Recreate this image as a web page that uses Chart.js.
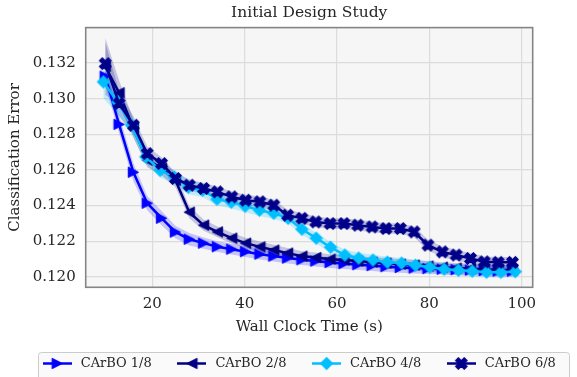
<!DOCTYPE html>
<html>
<head>
<meta charset="utf-8">
<script src="https://cdn.jsdelivr.net/npm/chart.js@4.4.1/dist/chart.umd.min.js"></script>
<style>
  html, body { margin: 0; padding: 0; background: #fff; }
  #wrap { width: 577px; height: 377px; }
</style>
</head>
<body>
<div id="wrap"><canvas id="study" width="577" height="377"></canvas></div>
<script>
// wall clock times (s) of the evaluations
const timeA = [9.8, 12.8, 15.9, 18.9, 22.0, 25.0, 28.0, 31.1, 34.1, 37.2,
               40.2, 43.3, 46.3, 49.3, 52.4, 55.4, 58.5, 61.5, 64.5, 67.6,
               70.6, 73.7, 76.7, 79.7, 82.8, 85.8, 88.9, 91.9, 94.9, 98.0]
const timeB = [9.4, 12.5, 15.5, 18.6, 21.7, 24.8, 27.8, 30.9, 34.0, 37.1,
               40.1, 43.2, 46.3, 49.4, 52.4, 55.5, 58.6, 61.7, 64.7, 67.8,
               70.9, 74.0, 77.0, 80.1, 83.2, 86.3, 89.3, 92.4, 95.5, 98.6]

// mean classification error per series
const err18 = [0.13126, 0.12856, 0.12587, 0.12413, 0.12329, 0.12251, 0.12211, 0.12189, 0.12169, 0.12155,
               0.12141, 0.12127, 0.12116, 0.12105, 0.12096, 0.12088, 0.12080, 0.12074, 0.12068, 0.12063,
               0.12057, 0.12052, 0.12049, 0.12046, 0.12043, 0.12040, 0.12038, 0.12035, 0.12032, 0.12032]
const err28 = [0.13182, 0.13033, 0.12834, 0.12655, 0.12610, 0.12542, 0.12363, 0.12290, 0.12252, 0.12217,
               0.12189, 0.12168, 0.12150, 0.12133, 0.12116, 0.12108, 0.12099, 0.12094, 0.12088, 0.12082,
               0.12077, 0.12071, 0.12066, 0.12060, 0.12054, 0.12049, 0.12046, 0.12043, 0.12040, 0.12038]
const err48 = [0.13094, 0.12981, 0.12851, 0.12673, 0.12598, 0.12559, 0.12503, 0.12486, 0.12436, 0.12419,
               0.12397, 0.12374, 0.12357, 0.12329, 0.12267, 0.12217, 0.12166, 0.12122, 0.12105, 0.12094,
               0.12082, 0.12077, 0.12065, 0.12054, 0.12043, 0.12037, 0.12032, 0.12026, 0.12026, 0.12029]
const err68 = [0.13197, 0.12973, 0.12851, 0.12692, 0.12636, 0.12552, 0.12514, 0.12496, 0.12477, 0.12449,
               0.12430, 0.12421, 0.12402, 0.12346, 0.12328, 0.12308, 0.12299, 0.12299, 0.12290, 0.12280,
               0.12271, 0.12271, 0.12252, 0.12178, 0.12140, 0.12122, 0.12103, 0.12084, 0.12081, 0.12081]

// spread (half width of the shaded band)
const sd18 = [0.0005, 0.0005, 0.0005, 0.0004, 0.0004, 0.00035, 0.00035, 0.00032, 0.0003, 0.0003,
              0.0003, 0.0003, 0.0003, 0.0003, 0.0003, 0.0003, 0.0003, 0.0003, 0.0003, 0.0003,
              0.0003, 0.0003, 0.0003, 0.0003, 0.0003, 0.0003, 0.0003, 0.0003, 0.0003, 0.0003]
const sd28 = [0.0016, 0.0007, 0.0005, 0.0004, 0.0004, 0.0004, 0.00035, 0.00032, 0.0003, 0.0003,
              0.0003, 0.0003, 0.0003, 0.00028, 0.00028, 0.00028, 0.00028, 0.00028, 0.00028, 0.00028,
              0.00028, 0.00028, 0.00028, 0.00028, 0.00028, 0.00028, 0.00028, 0.00028, 0.00028, 0.00028]
const sd48 = [0.0009, 0.0007, 0.0005, 0.0004, 0.0004, 0.0004, 0.0004, 0.00038, 0.00036, 0.00035,
              0.00035, 0.00033, 0.00032, 0.0003, 0.0003, 0.0003, 0.0003, 0.0003, 0.0003, 0.0003,
              0.0003, 0.0003, 0.0003, 0.0003, 0.0003, 0.0003, 0.0003, 0.0003, 0.0003, 0.0003]
const sd68 = [0.0012, 0.0007, 0.0005, 0.0004, 0.00035, 0.00033, 0.00032, 0.0003, 0.0003, 0.0003,
              0.0003, 0.0003, 0.0003, 0.0003, 0.0003, 0.0003, 0.0003, 0.0003, 0.0003, 0.0003,
              0.0003, 0.0003, 0.0003, 0.0003, 0.0003, 0.0003, 0.0003, 0.0003, 0.0003, 0.0003]

const seriesNames = ['CArBO 1/8', 'CArBO 2/8', 'CArBO 4/8', 'CArBO 6/8']
const xTicks = [20, 40, 60, 80, 100]
const yTicks = [0.120, 0.122, 0.124, 0.126, 0.128, 0.130, 0.132]

;(function () {
  'use strict'

  const FONT = "'DejaVu Serif', serif"
  const INK = '#262626'

  const look = [
    {t: timeA, y: err18, s: sd18, color: '#0000ff', band: 'rgba(0,0,255,0.2)',    shape: 'right',   r: 5.2},
    {t: timeA, y: err28, s: sd28, color: '#000080', band: 'rgba(0,0,128,0.2)',    shape: 'left',    r: 5.2},
    {t: timeB, y: err48, s: sd48, color: '#00bfff', band: 'rgba(0,191,255,0.22)', shape: 'diamond', r: 6.3},
    {t: timeA, y: err68, s: sd68, color: '#00008b', band: 'rgba(0,0,139,0.2)',    shape: 'x',       r: 6.2}
  ]

  function shapePath(g, shape, r) {
    g.beginPath()
    if (shape === 'right') { g.moveTo(r, 0); g.lineTo(-r, -r); g.lineTo(-r, r) }
    else if (shape === 'left') { g.moveTo(-r, 0); g.lineTo(r, -r); g.lineTo(r, r) }
    else if (shape === 'diamond') { g.moveTo(0, -r); g.lineTo(r, 0); g.lineTo(0, r); g.lineTo(-r, 0) }
    else {
      g.rotate(Math.PI / 4)
      const a = r, w = r / 3
      const pts = [[-w,-a],[w,-a],[w,-w],[a,-w],[a,w],[w,w],[w,a],[-w,a],[-w,w],[-a,w],[-a,-w],[-w,-w]]
      pts.forEach((p, i) => i ? g.lineTo(p[0], p[1]) : g.moveTo(p[0], p[1]))
    }
    g.closePath()
  }

  // marker image, optionally with a short line through it (legend)
  function markerImage(l, lineLen) {
    const c = document.createElement('canvas')
    const s = Math.ceil(l.r * 2 + 4)
    c.width = lineLen ? lineLen : s
    c.height = s
    const g = c.getContext('2d')
    if (lineLen) {
      g.strokeStyle = l.color
      g.lineWidth = 2.5
      g.beginPath(); g.moveTo(0, s / 2); g.lineTo(lineLen, s / 2); g.stroke()
    }
    g.translate(c.width / 2, s / 2)
    g.fillStyle = l.color
    g.strokeStyle = l.color
    g.lineWidth = 1
    g.lineJoin = 'round'
    shapePath(g, l.shape, l.r)
    g.fill(); g.stroke()
    return c
  }

  const datasets = []
  const order = [4, 3, 2, 1]
  look.forEach((l, k) => {
    datasets.push({
      label: 'lo' + k,
      data: l.t.map((t, i) => ({x: t, y: l.y[i] - l.s[i]})),
      borderWidth: 0, pointRadius: 0, fill: false, order: 10
    })
    datasets.push({
      label: 'hi' + k,
      data: l.t.map((t, i) => ({x: t, y: l.y[i] + l.s[i]})),
      borderWidth: 0, pointRadius: 0, fill: '-1', backgroundColor: l.band, order: 10
    })
    datasets.push({
      label: seriesNames[k],
      data: l.t.map((t, i) => ({x: t, y: l.y[i]})),
      borderColor: l.color, borderWidth: 2.5, fill: false,
      pointStyle: markerImage(l), pointRadius: 5,
      order: order[k]
    })
  })

  const frame = {
    id: 'frame',
    beforeDraw(chart) {
      const {ctx, chartArea: a} = chart
      ctx.save()
      ctx.fillStyle = '#fff'
      ctx.fillRect(0, 0, chart.width, chart.height)
      ctx.fillStyle = '#f6f6f6'
      ctx.fillRect(a.left, a.top, a.right - a.left, a.bottom - a.top)
      ctx.restore()
    },
    afterDraw(chart) {
      const {ctx, chartArea: a} = chart
      ctx.save()
      ctx.strokeStyle = '#858585'
      ctx.lineWidth = 1.6
      ctx.strokeRect(a.left, a.top, a.right - a.left, a.bottom - a.top)

      // legend below the axis title
      const bx = 38.5, by = 352.5, bw = 531, bh = 30
      ctx.beginPath()
      ctx.roundRect(bx, by, bw, bh, 3)
      ctx.fillStyle = 'rgba(250,250,250,0.9)'
      ctx.fill()
      ctx.strokeStyle = '#cccccc'
      ctx.lineWidth = 1
      ctx.stroke()
      ctx.font = '13px ' + FONT
      ctx.fillStyle = INK
      ctx.textBaseline = 'middle'
      const cy = 363.5
      look.forEach((l, k) => {
        const x0 = 42.7 + k * 134.7
        const img = markerImage(l, 29)
        ctx.drawImage(img, x0, cy - img.height / 2)
        ctx.fillText(seriesNames[k], x0 + 38, cy)
      })
      ctx.restore()
    }
  }

  new Chart(document.getElementById('study'), {
    type: 'line',
    data: {datasets: datasets},
    plugins: [frame],
    options: {
      responsive: false,
      animation: false,
      devicePixelRatio: 1,
      layout: {padding: {left: 0, right: 44.3, top: 0, bottom: 39.7}},
      elements: {line: {tension: 0}},
      plugins: {
        legend: {display: false},
        tooltip: {enabled: false},
        title: {
          display: true, text: 'Initial Design Study', fullSize: false,
          color: INK, font: {family: FONT, size: 15.5, weight: 'normal'},
          padding: {top: 4, bottom: 5}
        }
      },
      scales: {
        x: {
          type: 'linear', min: 5.57, max: 102.38,
          afterBuildTicks: s => { s.ticks = xTicks.map(v => ({value: v})) },
          afterFit: s => { s.height = 50 },
          grid: {color: '#dcdcdc', lineWidth: 1.2, drawTicks: false},
          border: {display: false},
          ticks: {color: INK, font: {family: FONT, size: 15}, padding: 8, maxRotation: 0},
          title: {display: true, text: 'Wall Clock Time (s)', color: INK,
                  font: {family: FONT, size: 15}, padding: {top: 0, bottom: 1.6}}
        },
        y: {
          type: 'linear', min: 0.11941, max: 0.13399,
          afterBuildTicks: s => { s.ticks = yTicks.map(v => ({value: v})) },
          afterFit: s => { s.width = 85.7 },
          grid: {color: '#dcdcdc', lineWidth: 1.2, drawTicks: false},
          border: {display: false},
          ticks: {color: INK, font: {family: FONT, size: 15}, padding: 10,
                  callback: v => v.toFixed(3)},
          title: {display: true, text: 'Classification Error', color: INK,
                  font: {family: FONT, size: 15}, padding: {top: 6, bottom: 0}}
        }
      }
    }
  })
}())
</script>
</body>
</html>
